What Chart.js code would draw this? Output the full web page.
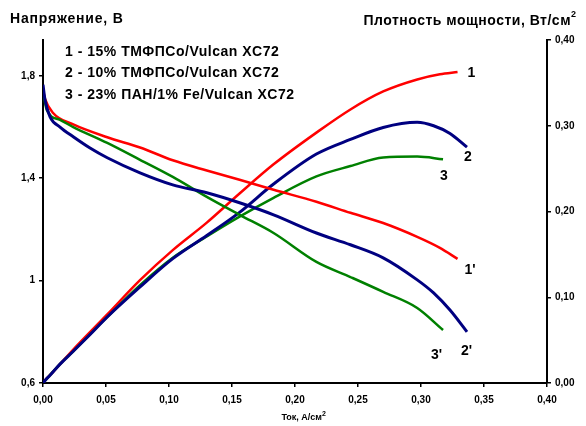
<!DOCTYPE html>
<html>
<head>
<meta charset="utf-8">
<script src="https://cdn.jsdelivr.net/npm/chart.js@4"></script>
<style>
	html, body { margin: 0; padding: 0; background: #fff; }
	#wrap { width: 586px; height: 426px; }
</style>
</head>
<body>
<div id="wrap"><canvas id="chart" width="586" height="426"></canvas></div>
<script>
// current density, A/cm2, for each sample
const cur1 = [0, 0.0016, 0.008, 0.024, 0.051, 0.077, 0.103, 0.130, 0.156, 0.183, 0.217, 0.244, 0.270, 0.297, 0.315, 0.329]
const volt1 = [1.745, 1.71, 1.655, 1.61, 1.56, 1.52, 1.47, 1.43, 1.394, 1.355, 1.308, 1.265, 1.225, 1.171, 1.128, 1.085]
const pow1 = [0, 0.003, 0.013, 0.039, 0.080, 0.120, 0.155, 0.187, 0.221, 0.255, 0.292, 0.319, 0.340, 0.354, 0.360, 0.3626]

const cur2 = [0, 0.0016, 0.0056, 0.0135, 0.024, 0.037, 0.051, 0.077, 0.103, 0.130, 0.156, 0.183, 0.217, 0.244, 0.270, 0.297, 0.310, 0.323, 0.3365]
const volt2 = [1.765, 1.706, 1.64, 1.60, 1.562, 1.519, 1.48, 1.421, 1.374, 1.343, 1.304, 1.257, 1.186, 1.14, 1.089, 1.003, 0.952, 0.885, 0.80]
const pow2 = [0, 0.003, 0.009, 0.022, 0.037, 0.056, 0.077, 0.112, 0.145, 0.172, 0.199, 0.232, 0.267, 0.284, 0.298, 0.304, 0.300, 0.291, 0.275]

const cur3 = [0, 0.003, 0.0135, 0.024, 0.051, 0.077, 0.103, 0.130, 0.156, 0.183, 0.217, 0.244, 0.270, 0.297, 0.3175]
const volt3 = [1.74, 1.667, 1.628, 1.60, 1.538, 1.472, 1.405, 1.327, 1.257, 1.186, 1.073, 1.014, 0.956, 0.893, 0.807]
const pow3 = [0, 0.005, 0.022, 0.037, 0.077, 0.114, 0.146, 0.171, 0.194, 0.216, 0.241, 0.253, 0.263, 0.264, 0.261]

const voltTicks = [0.6, 1.0, 1.4, 1.8]

const legendLines = [
	"1 - 15% ТМФПСо/Vulcan XC72",
	"2 - 10% ТМФПСо/Vulcan XC72",
	"3 - 23% ПАН/1% Fe/Vulcan XC72",
]
const curveLabels = ["1'", "2'", "3'", "1", "2", "3"]

const RED = "#ff0000"
const BLUE = "#000080"
const GREEN = "#008000"

function pts(xs, ys) {
	return xs.map((x, i) => ({ x: x, y: ys[i] }))
}

function line(label, data, color, axis, width) {
	return {
		label: label,
		data: data,
		yAxisID: axis,
		showLine: true,
		borderColor: color,
		backgroundColor: color,
		borderWidth: width,
		pointRadius: 0,
		cubicInterpolationMode: "monotone",
		fill: false,
	}
}

const FONT = "'Liberation Sans', Arial, sans-serif"
const tickFont = { family: FONT, size: 10, weight: "bold" }

// labels, titles and legend text
const textPlugin = {
	id: "texts",
	afterDraw(chart) {
		const ctx = chart.ctx
		const x = chart.scales.x
		const yl = chart.scales.y
		const yr = chart.scales.y2
		ctx.save()
		ctx.fillStyle = "#000"
		ctx.textBaseline = "middle"

		ctx.font = "bold 14px " + FONT
		ctx.textAlign = "left"
		ctx.letterSpacing = "0.8px"
		ctx.fillText("Напряжение, В", 10, 19)
		ctx.letterSpacing = "0.5px"
		legendLines.forEach((t, i) => ctx.fillText(t, 65, 52 + i * 21.5))

		ctx.textAlign = "right"
		ctx.fillText("Плотность мощности, Вт/см", 571, 21)
		ctx.letterSpacing = "0px"
		ctx.font = "bold 9px " + FONT
		ctx.textAlign = "left"
		ctx.fillText("2", 571, 15)

		ctx.font = "bold 9px " + FONT
		ctx.textAlign = "right"
		ctx.fillText("Ток, А/см", 322, 418)
		ctx.font = "bold 7px " + FONT
		ctx.textAlign = "left"
		ctx.fillText("2", 322, 414)

		// curve numbers near the curve ends
		ctx.font = "bold 14px " + FONT
		ctx.textAlign = "left"
		const ends = [
			[cur1, volt1, yl, 7, 11],
			[cur2, volt2, yl, -6, 19],
			[cur3, volt3, yl, -12, 25],
			[cur1, pow1, yr, 10, 1],
			[cur2, pow2, yr, -3, 10],
			[cur3, pow3, yr, -3, 17],
		]
		ends.forEach((e, i) => {
			const n = e[0].length - 1
			const px = x.getPixelForValue(e[0][n]) + e[3]
			const py = e[2].getPixelForValue(e[1][n]) + e[4]
			ctx.fillText(curveLabels[i], px, py)
		})
		ctx.restore()
	},
}

const axisGrid = { drawOnChartArea: false, drawTicks: true, tickLength: 4, color: "#000", lineWidth: 1.5 }
const axisBorder = { display: true, color: "#000", width: 2 }

new Chart(document.getElementById("chart"), {
	type: "scatter",
	data: {
		datasets: [
			line("2'", pts(cur2, volt2), BLUE, "y", 3),
			line("3'", pts(cur3, volt3), GREEN, "y", 2.5),
			line("1'", pts(cur1, volt1), RED, "y", 2.5),
			line("2", pts(cur2, pow2), BLUE, "y2", 3),
			line("3", pts(cur3, pow3), GREEN, "y2", 2.5),
			line("1", pts(cur1, pow1), RED, "y2", 2.5),
		],
	},
	options: {
		responsive: false,
		animation: false,
		events: [],
		layout: { padding: { top: 40, left: 0, right: 0, bottom: 0 } },
		plugins: {
			legend: { display: false },
			tooltip: { enabled: false },
		},
		scales: {
			x: {
				type: "linear",
				min: 0,
				max: 0.4,
				afterFit: (s) => { s.height = 43 },
				border: axisBorder,
				grid: axisGrid,
				ticks: {
					stepSize: 0.05,
					color: "#000",
					font: tickFont,
					padding: 7,
					maxRotation: 0,
					callback: (v) => v.toFixed(2).replace(".", ","),
				},
			},
			y: {
				type: "linear",
				position: "left",
				min: 0.6,
				max: 1.94,
				afterFit: (s) => { s.width = 43 },
				afterBuildTicks: (s) => { s.ticks = voltTicks.map((v) => ({ value: v })) },
				border: axisBorder,
				grid: axisGrid,
				ticks: {
					color: "#000",
					font: tickFont,
					padding: 4,
					callback: (v) => String(+v.toFixed(2)).replace(".", ","),
				},
			},
			y2: {
				type: "linear",
				position: "right",
				min: 0,
				max: 0.4,
				afterFit: (s) => { s.width = 39 },
				border: axisBorder,
				grid: axisGrid,
				ticks: {
					stepSize: 0.1,
					color: "#000",
					font: tickFont,
					padding: 4,
					callback: (v) => v.toFixed(2).replace(".", ","),
				},
			},
		},
	},
	plugins: [textPlugin],
})
</script>
</body>
</html>
